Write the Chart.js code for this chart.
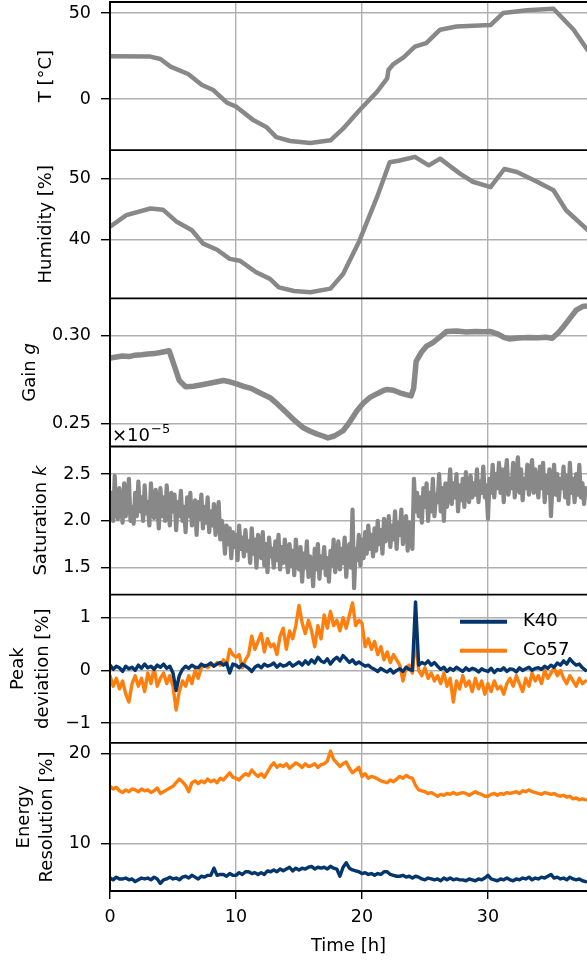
<!DOCTYPE html>
<html><head><meta charset="utf-8">
<script src="https://cdn.jsdelivr.net/npm/chart.js@4.4.1/dist/chart.umd.min.js"></script>
<style>html,body{margin:0;padding:0;background:#fff;overflow:hidden}canvas{display:block}</style>
</head><body>
<canvas id="c" width="587" height="964"></canvas>
<script>
// ---------------- DATA ----------------
const xTicks = [0, 10, 20, 30];

const tempTime = [0,3.2,4.0,4.8,6.2,7.3,8.2,9.3,10.05,11.4,12.4,13.2,14.3,15.9,17.5,18.5,19.8,21.2,22.0,22.1,22.5,23.3,24.2,25.1,26.2,27.5,30.2,31.2,33.1,35.2,36.8,37.9];
const tempVals = [24.9,24.7,23.3,18.9,14.6,8.2,5.3,-2.1,-4.5,-12.3,-16.1,-22.0,-24.3,-25.5,-23.9,-17.1,-6.4,4.3,12.1,16.9,20.4,24.3,30.5,32.5,40.3,42.2,43.0,50.0,51.6,52.5,40.3,28.6];
const tempTicks = [0, 50];

const humTime = [0,1.3,3.2,4.2,5.3,6.5,7.4,8.5,9.5,10.3,11.6,12.7,13.4,14.6,15.9,17.5,18.5,19.8,21.2,22.2,23.0,24.2,25.3,26.2,27.8,28.8,30.2,31.3,32.3,33.9,35.2,36.2,37.9];
const humVals = [42.1,44.0,45.1,44.9,42.9,41.5,39.3,38.3,36.8,36.5,34.6,33.5,32.1,31.5,31.3,31.9,34.3,39.8,47.0,52.7,53.0,53.6,52.2,53.3,50.8,49.5,48.6,51.6,51.1,49.5,48.1,44.8,41.6];
const humTicks = [40, 50];

const gainTime = [0,0.5,1,1.5,2,2.5,3,3.5,4,4.7,5.1,5.5,6.0,6.6,7.2,7.8,8.4,9.0,9.5,10.05,10.6,11.2,11.8,12.7,13.3,14.0,14.6,15.3,15.9,16.4,16.9,17.3,17.8,18.5,19.0,19.6,20.1,20.6,21.2,21.7,22.0,22.5,23.0,23.5,23.9,24.1,24.3,24.7,25.1,25.6,26.2,26.7,27.5,28.3,29.0,29.7,30.2,30.8,31.3,31.7,32.4,33.2,34.0,34.6,35.1,35.6,36.0,36.5,37.0,37.5,37.9];
const gainVals = [0.2874,0.2880,0.2885,0.2882,0.2890,0.2893,0.2897,0.2899,0.2905,0.2915,0.2830,0.2745,0.2710,0.2712,0.2720,0.2728,0.2737,0.2745,0.2738,0.2726,0.2712,0.2700,0.2678,0.2647,0.2610,0.2562,0.2520,0.2477,0.2455,0.2440,0.2428,0.2417,0.2428,0.2458,0.2505,0.2572,0.2615,0.2647,0.2670,0.2688,0.2694,0.2690,0.2675,0.2665,0.2657,0.2700,0.2855,0.2905,0.2940,0.2960,0.2995,0.3025,0.3028,0.3022,0.3026,0.3024,0.3025,0.3010,0.2990,0.2983,0.2988,0.2991,0.2990,0.2993,0.2987,0.3020,0.3053,0.3100,0.3147,0.3168,0.3172];
const gainTicks = [0.25, 0.30];

const satStep = 0.125; // hours between samples
const satVals = [
2.05,2.30,2.00,2.48,2.10,2.02,2.35,2.15,
1.98,2.40,2.05,2.20,2.45,2.00,2.15,1.97,
2.30,2.05,2.42,2.10,2.25,2.00,2.38,2.08,
2.20,1.95,2.40,2.12,2.03,2.33,2.18,1.92,
2.35,2.05,2.25,2.00,2.38,2.15,1.95,2.30,
2.10,2.28,1.90,2.20,2.05,2.32,2.00,2.15,
1.88,2.25,2.05,2.30,1.95,2.12,2.22,1.85,
2.20,2.02,2.28,1.92,2.15,1.98,2.25,1.88,
2.10,1.95,2.18,1.85,2.05,2.20,1.80,2.00,
1.90,1.65,1.95,1.75,1.92,1.60,1.88,1.72,
1.85,1.58,1.95,1.70,1.82,1.62,1.90,1.68,
1.78,1.55,1.92,1.65,1.80,1.50,1.85,1.70,
1.60,1.88,1.52,1.75,1.45,1.82,1.62,1.70,
1.50,1.78,1.58,1.85,1.48,1.72,1.55,1.80,
1.62,1.45,1.75,1.52,1.68,1.42,1.80,1.58,
1.48,1.72,1.35,1.65,1.50,1.78,1.40,1.62,
1.55,1.30,1.70,1.48,1.75,1.38,1.62,1.50,
1.72,1.42,1.60,1.35,1.68,1.52,1.80,1.45,
1.62,1.78,1.48,1.70,1.55,1.82,1.40,1.65,
1.75,1.50,2.12,1.28,1.70,1.58,1.85,1.52,
1.80,1.60,1.88,1.65,1.95,1.70,1.85,1.62,
1.92,1.68,2.00,1.75,1.90,1.65,2.02,1.78,
1.88,2.05,1.72,1.95,1.80,2.10,1.70,1.98,
1.85,2.12,1.75,1.95,2.05,1.68,1.98,1.80,
1.70,2.45,2.10,2.30,2.05,2.25,1.98,2.35,
2.15,2.40,2.00,2.30,2.10,2.45,2.05,2.28,
2.20,2.50,2.10,2.35,2.00,2.40,2.15,2.30,
2.55,2.18,2.40,2.25,2.50,2.10,2.38,2.22,
2.45,2.15,2.52,2.30,2.20,2.48,2.25,2.40,
2.28,2.55,2.20,2.42,2.30,2.58,2.25,2.38,
2.02,2.45,2.30,2.60,2.25,2.50,2.35,2.62,
2.30,2.55,2.20,2.48,2.65,2.28,2.45,2.35,
2.62,2.25,2.50,2.68,2.30,2.55,2.22,2.45,
2.35,2.60,2.28,2.50,2.65,2.30,2.55,2.40,
2.25,2.58,2.35,2.62,2.20,2.48,2.30,2.55,
2.05,2.40,2.60,2.28,2.50,2.22,2.45,2.35,
2.58,2.25,2.48,2.18,2.62,2.30,2.45,2.20,
2.50,2.28,2.60,2.25,2.40,2.18,2.35,2.30];
const satTicks = [1.5, 2.0, 2.5];

const devStep = 0.25; // hours between samples
const peakK40 = [
0.10,0.02,0.08,0.05, -0.02,0.08,0.03,0.06, 0.00,0.10,0.04,0.12, 0.05,0.08,0.02,0.10,
0.06,0.12,0.04,0.08, -0.05,-0.38,-0.10,0.02, 0.08,0.04,0.10,0.06, 0.05,0.12,0.08,0.10,
0.14,0.08,0.12,0.15, 0.10,0.14,-0.05,0.12, 0.10,0.05,0.12,0.08, 0.04,-0.02,0.06,0.10,
0.05,0.12,0.08,0.10, 0.14,0.06,0.12,0.08, 0.10,0.15,0.08,0.12, 0.16,0.10,0.18,0.12,
0.20,0.14,0.25,0.18, 0.15,0.22,0.12,0.20, 0.25,0.18,0.28,0.22, 0.15,0.20,0.12,0.16,
0.12,0.08,0.10,0.05, 0.02,-0.02,0.04,0.00, -0.03,0.02,-0.05,0.00, 0.03,-0.02,0.06,0.02,
0.00,1.30,0.10,0.15, 0.12,0.18,0.10,0.15, 0.08,0.02,0.06,-0.02, 0.04,0.00,0.06,0.02,
-0.02,0.05,0.00,0.04, 0.02,-0.03,0.03,0.00, -0.02,0.04,-0.04,0.02, 0.00,0.05,-0.02,0.03,
0.02,-0.03,0.05,0.00, 0.03,0.06,0.00,0.04, 0.05,0.02,0.08,0.04, 0.10,0.06,0.14,0.10,
0.18,0.12,0.22,0.15, 0.10,0.12,0.05,0.00];
const peakCo57 = [
-0.10,-0.30,-0.15,-0.35, -0.20,-0.45,-0.60,-0.25, -0.10,-0.30,-0.15,-0.40, -0.05,-0.25,0.05,-0.30,
-0.15,-0.05,-0.25,-0.10, -0.30,-0.75,-0.40,-0.20, -0.30,-0.10,-0.25,0.00, -0.15,0.05,0.10,0.05,
0.12,0.08,0.15,0.10, 0.20,0.10,0.40,0.30, 0.25,0.30,0.05,0.20, 0.30,0.65,0.40,0.55,
0.70,0.35,0.60,0.45, 0.50,0.30,0.65,0.80, 0.40,0.75,0.60,0.85, 1.23,0.90,0.70,0.95,
0.75,0.45,0.85,0.60, 1.05,0.80,1.12,0.85, 0.95,0.75,1.00,0.80, 1.05,1.28,0.85,0.95,
0.90,0.45,0.60,0.40, 0.55,0.30,0.45,0.20, 0.35,0.15,0.30,0.20, 0.10,-0.20,0.05,0.10,
-0.05,0.63,0.00,-0.10, 0.05,-0.15,-0.05,-0.20, -0.10,-0.25,-0.05,-0.30, -0.15,-0.60,-0.20,-0.35,
-0.10,-0.30,-0.20,-0.40, -0.15,-0.35,-0.20,-0.45, -0.25,-0.40,-0.20,-0.35, -0.30,-0.45,-0.25,-0.15,
-0.30,-0.10,-0.25,-0.40, -0.15,-0.30,-0.05,-0.20, -0.10,-0.25,0.00,-0.15, -0.05,0.05,-0.10,0.00,
-0.15,-0.25,-0.10,-0.20, -0.30,-0.15,-0.25,-0.20];
const peakTicks = [-1, 0, 1];

const resCo57 = [
16.4,16.1,16.3,15.9, 15.7,16.0,15.8,16.1, 16.0,15.8,16.1,15.9, 16.0,15.7,15.9,16.2,
15.6,15.8,16.0,16.2, 16.4,16.8,17.2,16.9, 16.5,15.8,16.8,17.0, 16.7,17.0,16.8,17.2,
16.9,17.1,16.8,17.3, 17.1,17.5,17.9,17.4, 17.3,17.1,17.5,17.8, 17.6,18.2,17.8,17.5,
17.8,17.4,18.0,18.6, 19.0,18.5,18.8,18.6, 18.9,18.4,18.7,19.0, 18.8,18.5,18.9,18.6,
18.7,18.9,18.5,18.8, 18.9,19.2,20.3,19.4, 19.0,18.6,18.9,19.1, 18.4,17.9,18.2,18.5,
17.5,17.8,17.3,17.5, 17.4,17.2,17.0,16.9, 16.8,17.1,16.9,17.2, 17.5,17.3,17.6,17.4,
17.3,16.5,16.0,15.9, 15.8,15.6,15.7,15.5, 15.3,15.5,15.4,15.6, 15.5,15.7,15.5,15.6,
15.7,15.6,15.4,15.6, 15.8,15.6,15.5,15.3, 15.3,15.5,15.6,15.4, 15.6,15.5,15.7,15.6,
15.7,15.8,15.6,15.9, 15.8,16.0,15.8,15.7, 15.6,15.5,15.7,15.6, 15.5,15.6,15.4,15.3,
15.4,15.2,15.3,15.0, 15.1,14.9,15.0,14.9];
const resK40 = [
6.2,6.0,6.3,6.1, 6.1,6.2,6.0,6.1, 5.8,6.0,6.2,6.1, 6.2,6.0,6.3,6.1,
5.6,6.0,6.1,6.3, 6.1,6.2,6.0,6.3, 6.4,6.2,6.5,6.3, 6.1,6.4,6.3,6.5,
6.5,7.3,6.5,6.6, 6.6,6.4,6.7,6.5, 6.5,6.8,6.6,6.9, 6.9,6.7,6.8,6.6,
6.8,6.6,7.0,6.9, 7.1,6.9,7.2,7.0, 7.2,7.4,7.0,7.3, 7.1,7.3,7.2,7.4,
7.5,7.2,7.4,7.3, 7.4,7.2,7.5,7.3, 7.2,6.4,7.4,7.9, 7.3,7.1,7.0,6.9,
6.7,6.8,6.6,6.7, 6.5,6.7,6.6,6.9, 6.9,6.6,6.5,6.4, 6.4,6.5,6.3,6.4,
6.2,6.4,6.3,6.1, 6.0,6.2,6.1,6.0, 6.1,5.9,6.2,6.0, 6.2,6.0,6.1,6.0,
6.0,5.9,6.1,6.0, 5.9,6.1,6.0,6.2, 6.5,6.1,6.0,5.9, 6.1,6.0,6.2,6.0,
5.9,6.1,6.0,6.2, 6.1,6.3,6.0,6.2, 6.1,6.3,6.2,6.4, 6.6,6.2,6.3,6.1,
6.2,6.0,6.3,6.1, 6.0,6.1,5.9,5.8];
const resTicks = [10, 20];

const seriesNames = ['K40', 'Co57'];

// ---------------- STYLE ----------------
const FONT = '"DejaVu Sans", sans-serif';
const GRAY = '#888888', BLUE = '#04356b', ORANGE = '#ff7f0e';
const pairs = (xs, ys) => ys.map((y, i) => ({x: xs[i], y}));
const sampled = (ys, step) => ys.map((y, i) => ({x: i * step, y}));

const panels = [
  {id:'yT',   min:-29.6, max:56.4,  ticks:tempTicks, fmt:v=>String(v)},
  {id:'yH',   min:30.3,  max:54.7,  ticks:humTicks,  fmt:v=>String(v)},
  {id:'yG',   min:0.2368,max:0.3215,ticks:gainTicks, fmt:v=>v.toFixed(2)},
  {id:'yS',   min:1.21,  max:2.795, ticks:satTicks,  fmt:v=>v.toFixed(1)},
  {id:'yP',   min:-1.373,max:1.436, ticks:peakTicks, fmt:v=>String(v).replace('-','\u2212')},
  {id:'yR',   min:4.76,  max:21.23, ticks:resTicks,  fmt:v=>String(v)}
];

const scales = {
  x: {
    type:'linear', position:'bottom', min:0, max:37.86,
    afterBuildTicks: s => { s.ticks = xTicks.map(v=>({value:v})); },
    afterFit: s => { s.height = 73; s.paddingLeft = 0; s.paddingRight = 0; },
    grid:{color:'#b0b0b0', lineWidth:1.4, tickColor:'#000', tickWidth:1.4, tickLength:8},
    border:{display:true, color:'#000', width:1.8},
    ticks:{font:{family:FONT, size:17.5}, color:'#000', padding:8, maxRotation:0},
    title:{display:true, text:'Time [h]', font:{family:FONT, size:18}, color:'#000', padding:{top:4, bottom:7}}
  }
};
panels.forEach((p, i) => {
  scales[p.id] = {
    type:'linear', position:'left', stack:'panels', stackWeight:1, weight: 10 - i,
    min:p.min, max:p.max,
    afterBuildTicks: s => { s.ticks = p.ticks.map(v=>({value:v})); },
    afterFit: s => { s.width = 110; s.paddingTop = 0; s.paddingBottom = 0; },
    grid:{color:'#b0b0b0', lineWidth:1.4, tickColor:'#000', tickWidth:1.4, tickLength:9},
    border:{display:true, color:'#000', width:1.8},
    ticks:{font:{family:FONT, size:17.5}, color:'#000', padding:10, callback:v=>p.fmt(v)}
  };
});

const lineDs = (data, axis, color, w) => ({
  data, yAxisID:axis, borderColor:color, borderWidth:w, pointRadius:0,
  fill:false, tension:0, borderJoinStyle:'round', borderCapStyle:'round'
});

const datasets = [
  lineDs(pairs(tempTime, tempVals), 'yT', GRAY, 4.5),
  lineDs(pairs(humTime, humVals), 'yH', GRAY, 4.5),
  lineDs(pairs(gainTime, gainVals), 'yG', GRAY, 5.5),
  lineDs(sampled(satVals, satStep), 'yS', GRAY, 4.2),
  lineDs(sampled(peakK40, devStep), 'yP', BLUE, 3.4),
  lineDs(sampled(peakCo57, devStep), 'yP', ORANGE, 3.4),
  lineDs(sampled(resCo57, devStep), 'yR', ORANGE, 3.4),
  lineDs(sampled(resK40, devStep), 'yR', BLUE, 3.4)
];

function drawRot(ctx, cx, cy, parts, size) {
  ctx.save();
  ctx.translate(cx, cy);
  ctx.rotate(-Math.PI / 2);
  let total = 0;
  parts.forEach(p => { ctx.font = (p.it ? 'italic ' : '') + size + 'px ' + FONT; p.w = ctx.measureText(p.t).width; total += p.w; });
  let x = -total / 2;
  ctx.textBaseline = 'middle'; ctx.textAlign = 'left'; ctx.fillStyle = '#000';
  parts.forEach(p => { ctx.font = (p.it ? 'italic ' : '') + size + 'px ' + FONT; ctx.fillText(p.t, x, 0); x += p.w; });
  ctx.restore();
}

const decor = {
  id:'decor',
  afterDatasetsDraw(chart) {
    const ctx = chart.ctx, a = chart.chartArea;
    ctx.save();
    ctx.strokeStyle = '#000'; ctx.lineWidth = 1.8;
    panels.forEach(p => {
      const s = chart.scales[p.id];
      ctx.beginPath(); ctx.moveTo(a.left - 0.9, s.top); ctx.lineTo(a.right, s.top); ctx.stroke();
    });
    ctx.beginPath(); ctx.moveTo(a.left - 0.9, a.bottom); ctx.lineTo(a.right, a.bottom); ctx.stroke();
    ctx.beginPath(); ctx.moveTo(a.left, a.top); ctx.lineTo(a.left, a.bottom); ctx.stroke();

    // axis labels
    const L = 18;
    const mid = id => (chart.scales[id].top + chart.scales[id].bottom) / 2;
    drawRot(ctx, 46, mid('yT'), [{t:'T [°C]'}], L);
    drawRot(ctx, 46, mid('yH'), [{t:'Humidity [%]'}], L);
    drawRot(ctx, 30, mid('yG'), [{t:'Gain '}, {t:'g', it:true}], L);
    drawRot(ctx, 41, mid('yS'), [{t:'Saturation '}, {t:'k', it:true}], L);
    drawRot(ctx, 18, mid('yP'), [{t:'Peak'}], L);
    drawRot(ctx, 43, mid('yP'), [{t:'deviation [%]'}], L);
    drawRot(ctx, 24, mid('yR'), [{t:'Energy'}], L);
    drawRot(ctx, 47, mid('yR'), [{t:'Resolution [%]'}], L);

    // offset text for saturation axis
    ctx.fillStyle = '#000'; ctx.textAlign = 'left'; ctx.textBaseline = 'alphabetic';
    ctx.font = '18px ' + FONT;
    const sTop = chart.scales.yS.top;
    ctx.fillText('\u00d710', a.left + 2, sTop - 6);
    const w = ctx.measureText('\u00d710').width;
    ctx.font = '13px ' + FONT;
    ctx.fillText('\u22125', a.left + 3 + w, sTop - 14);

    // legend
    const ys = chart.scales.yP;
    const ly = [ys.top + 27, ys.top + 56];
    const cols = [BLUE, ORANGE];
    ctx.lineWidth = 4; ctx.lineCap = 'butt';
    ctx.font = '18px ' + FONT; ctx.textBaseline = 'middle';
    seriesNames.forEach((n, i) => {
      ctx.strokeStyle = cols[i];
      ctx.beginPath(); ctx.moveTo(460, ly[i]); ctx.lineTo(507, ly[i]); ctx.stroke();
      ctx.fillStyle = '#000'; ctx.fillText(n, 523, ly[i]);
    });
    ctx.restore();
  }
};

new Chart(document.getElementById('c'), {
  type:'line',
  data:{datasets},
  options:{
    responsive:false, animation:false, devicePixelRatio:1,
    layout:{padding:{top:2, left:0, right:0, bottom:0}},
    plugins:{legend:{display:false}, tooltip:{enabled:false}},
    scales
  },
  plugins:[decor]
});
</script>
</body></html>
